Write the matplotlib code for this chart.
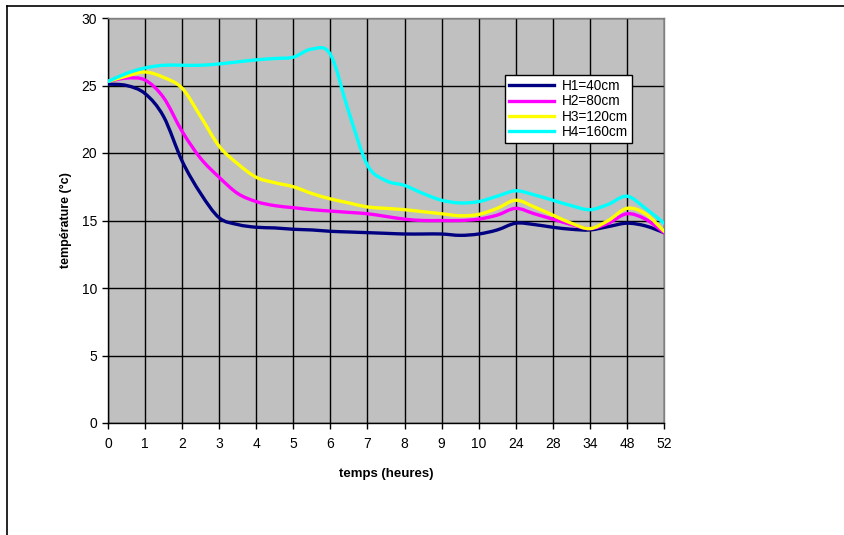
import matplotlib
matplotlib.use("Agg")
import matplotlib.pyplot as plt
from matplotlib.lines import Line2D
from matplotlib.path import Path
from matplotlib.patches import PathPatch

plt.rcParams['font.family'] = ['Liberation Sans', 'DejaVu Sans']

categories = ["0", "1", "2", "3", "4", "5", "6", "7", "8", "9", "10",
              "24", "28", "34", "48", "52"]
# positions of the readings (category index, half steps)
positions = [i * 0.5 for i in range(31)]

h1 = [25.1, 25.0, 24.4, 22.7, 19.4, 17.0, 15.2, 14.7, 14.5, 14.45, 14.35,
      14.3, 14.2, 14.15, 14.1, 14.05, 14.0, 14.0, 14.0, 13.9, 14.0,
      14.3, 14.8, 14.7, 14.5, 14.35, 14.3, 14.55, 14.8, 14.6, 14.1]
h2 = [25.3, 25.55, 25.4, 24.1, 21.6, 19.6, 18.2, 17.0, 16.4, 16.1, 15.95,
      15.8, 15.7, 15.6, 15.5, 15.3, 15.1, 15.0, 15.0, 15.0, 15.1,
      15.4, 15.9, 15.5, 15.1, 14.7, 14.4, 14.8, 15.5, 15.1, 14.1]
h3 = [25.3, 25.7, 26.0, 25.6, 24.8, 22.7, 20.5, 19.2, 18.2, 17.8, 17.5,
      17.0, 16.6, 16.3, 16.0, 15.9, 15.8, 15.65, 15.5, 15.35, 15.45,
      15.9, 16.5, 16.0, 15.4, 14.8, 14.4, 15.0, 15.9, 15.5, 14.2]
h4 = [25.3, 25.9, 26.3, 26.5, 26.5, 26.5, 26.6, 26.75, 26.9, 27.0, 27.1,
      27.7, 27.3, 23.0, 19.1, 17.95, 17.6, 17.0, 16.5, 16.3, 16.4,
      16.8, 17.2, 16.9, 16.5, 16.1, 15.8, 16.2, 16.8, 15.9, 14.8]

series = [("H1=40cm", h1, "#000080"),
          ("H2=80cm", h2, "#FF00FF"),
          ("H3=120cm", h3, "#FFFF00"),
          ("H4=160cm", h4, "#00FFFF")]


def smooth_path(xs, ys):
    """Smoothed line through the readings (Catmull-Rom as cubic Bezier)."""
    n = len(xs)
    verts = [(xs[0], ys[0])]
    codes = [Path.MOVETO]
    for i in range(n - 1):
        x0, y0 = (xs[i - 1], ys[i - 1]) if i > 0 else (xs[i], ys[i])
        x1, y1 = xs[i], ys[i]
        x2, y2 = xs[i + 1], ys[i + 1]
        x3, y3 = (xs[i + 2], ys[i + 2]) if i + 2 < n else (x2, y2)
        c1 = (x1 + (x2 - x0) / 6.0, y1 + (y2 - y0) / 6.0)
        c2 = (x2 - (x3 - x1) / 6.0, y2 - (y3 - y1) / 6.0)
        verts += [c1, c2, (x2, y2)]
        codes += [Path.CURVE4] * 3
    return Path(verts, codes)


W, H = 845, 535
fig = plt.figure(figsize=(W / 100, H / 100), dpi=100)
fig.patch.set_facecolor("white")
ax = fig.add_axes([108 / W, (H - 423) / H, (664 - 108) / W, (423 - 18) / H])
ax.set_facecolor("#C0C0C0")

handles = []
for name, vals, col in series:
    patch = PathPatch(smooth_path(positions, vals), facecolor="none",
                      edgecolor=col, lw=2.4, joinstyle="round",
                      capstyle="round", zorder=3)
    ax.add_patch(patch)
    handles.append(Line2D([], [], color=col, lw=2.4, label=name))

ax.set_xlim(0, len(categories) - 1)
ax.set_ylim(0, 30)
ax.set_xticks(range(len(categories)))
ax.set_xticklabels(categories)
ax.set_yticks(range(0, 31, 5))

ax.grid(True, color="black", lw=1.0, zorder=1)
ax.set_axisbelow(True)

for s in ["top", "right"]:
    ax.spines[s].set_color("#808080")
    ax.spines[s].set_linewidth(1.0)
for s in ["left", "bottom"]:
    ax.spines[s].set_color("black")
    ax.spines[s].set_linewidth(1.0)

ax.tick_params(axis="both", direction="out", length=4, width=1,
               labelsize=10, colors="black")
ax.tick_params(axis="x", pad=6)
ax.tick_params(axis="y", pad=4)

ax.set_xlabel("temps (heures)", fontsize=9.5, fontweight="bold", labelpad=12)
ax.set_ylabel("température (°c)", fontsize=9, fontweight="bold", labelpad=7)

leg = ax.legend(handles=handles, loc="upper left",
                bbox_to_anchor=((505 - 108) / (664 - 108), (423 - 75) / (423 - 18)),
                frameon=True, fancybox=False, edgecolor="black", facecolor="white",
                framealpha=1, fontsize=9.8, handlelength=3.3, handletextpad=0.6,
                borderpad=0.3, labelspacing=0.1, borderaxespad=0)
leg.get_frame().set_linewidth(1.0)

# outer chart frame (left and top edges visible)
fig.add_artist(Line2D([7 / W, 7 / W], [0, 1 - 6 / H], color="black", lw=1.2,
                      transform=fig.transFigure))
fig.add_artist(Line2D([7 / W, 1], [1 - 6 / H, 1 - 6 / H], color="black", lw=1.2,
                      transform=fig.transFigure))

fig.savefig("out.png", dpi=100)
